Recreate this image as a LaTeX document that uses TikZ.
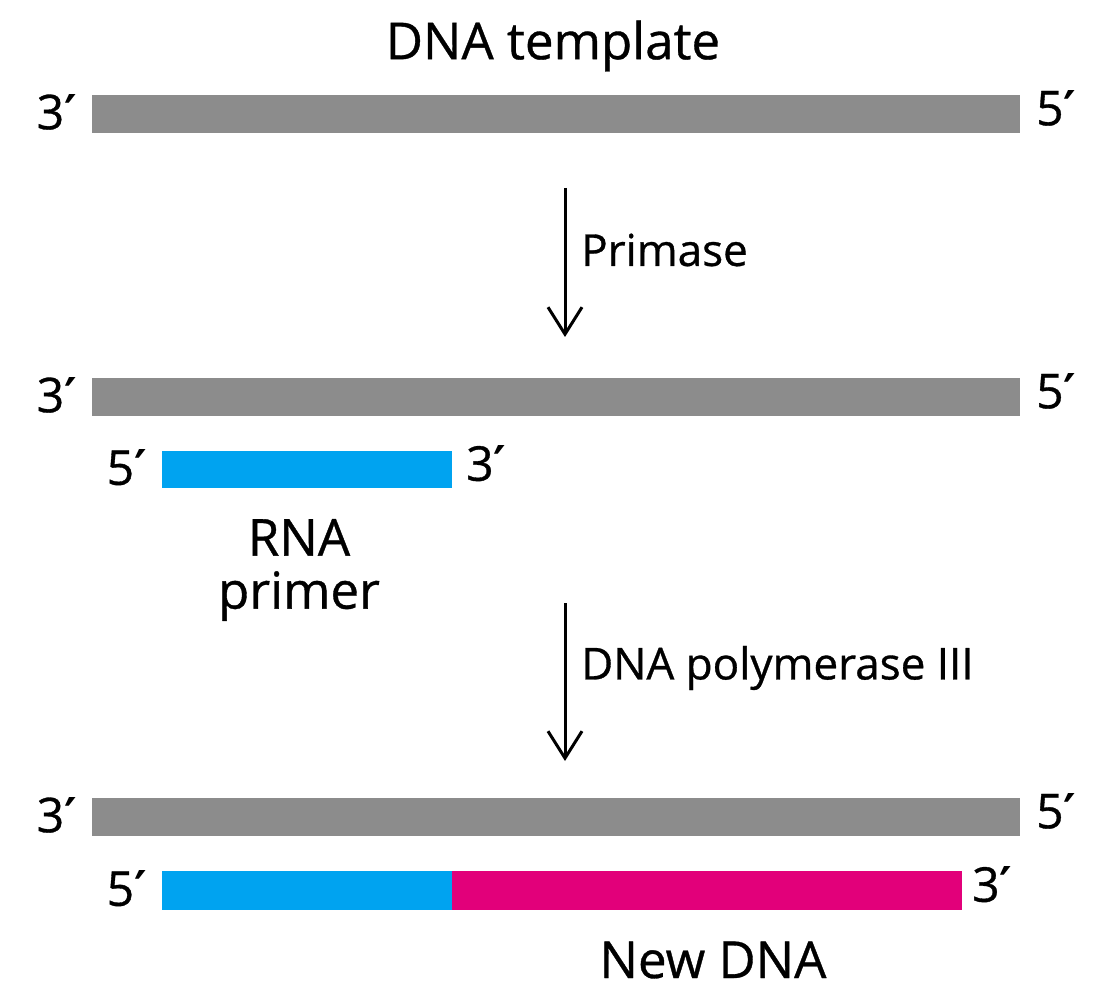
\documentclass[tikz,border=0pt]{standalone}
\usepackage{fontspec}
\setmainfont{Open Sans}[FakeBold=0.7,AutoFakeBold=0.7]
\newfontfamily\primefont{DejaVu Sans}
\usetikzlibrary{arrows.meta}
\newcommand{\pr}{{\primefont\char"2032}}
\definecolor{tmplgray}{RGB}{140,140,140}
\definecolor{rnablue}{RGB}{0,163,240}
\definecolor{dnamag}{RGB}{226,0,122}
\tikzset{
  strand/.style={inner sep=0pt, outer sep=0pt, minimum height=38pt},
  endlbl/.style={font=\fontsize{48}{52}\selectfont\bfseries, inner sep=0pt},
  lbl/.style={font=\fontsize{44}{50}\selectfont\bfseries, inner sep=0pt, align=center},
  biglbl/.style={font=\fontsize{51}{53}\selectfont\bfseries, inner sep=0pt, align=center},
  steparrow/.style={line width=3pt, -{Straight Barb[length=27pt,width=34pt,line width=3pt]}}
}
\begin{document}
\begin{tikzpicture}[x=1pt,y=-1pt]
\path[use as bounding box, fill=white] (0,0) rectangle (1112,1000);
% top
\node[biglbl] (title) at (553,46) {DNA template};
\node[strand, fill=tmplgray, minimum width=928pt] (t1) at (556,114) {};
\node[endlbl, anchor=east] (t1l) at ([xshift=-15pt,yshift=2pt]t1.west) {3\pr};
\node[endlbl, anchor=west] (t1r) at ([xshift=16pt,yshift=6pt]t1.east) {5\pr};
% arrow 1
\coordinate (a1s) at (565,188);
\coordinate (a1e) at (565,337);
\draw[steparrow] (a1s) -- (a1e);
\node[lbl, anchor=west] (primase) at (581,250) {Primase};
% row 2
\node[strand, fill=tmplgray, minimum width=928pt] (t2) at (556,397) {};
\node[endlbl, anchor=east] (t2l) at ([xshift=-15pt,yshift=2pt]t2.west) {3\pr};
\node[endlbl, anchor=west] (t2r) at ([xshift=16pt,yshift=6pt]t2.east) {5\pr};
\node[strand, fill=rnablue, minimum width=290pt, minimum height=37pt] (p2) at (307,469.5) {};
\node[endlbl, anchor=east] (p2l) at ([xshift=-15pt,yshift=2pt]p2.west) {5\pr};
\node[endlbl, anchor=west] (p2r) at ([xshift=14pt,yshift=6pt]p2.east) {3\pr};
\node[biglbl] (rnaprimer) at (299,570) {RNA\\primer};
% arrow 2
\coordinate (a2s) at (565,603);
\coordinate (a2e) at (565,761);
\draw[steparrow] (a2s) -- (a2e);
\node[lbl, anchor=west] (pol) at (581,668) {DNA polymerase III};
% row 3
\node[strand, fill=tmplgray, minimum width=928pt] (t3) at (556,817) {};
\node[endlbl, anchor=east] (t3l) at ([xshift=-15pt,yshift=2pt]t3.west) {3\pr};
\node[endlbl, anchor=west] (t3r) at ([xshift=16pt,yshift=6pt]t3.east) {5\pr};
\node[strand, fill=rnablue, minimum width=290pt, minimum height=39pt] (p3) at (307,890.5) {};
\node[strand, fill=dnamag, minimum width=510pt, minimum height=39pt, anchor=west] (n3) at (p3.east) {};
\node[endlbl, anchor=east] (p3l) at ([xshift=-15pt,yshift=2pt]p3.west) {5\pr};
\node[endlbl, anchor=west] (n3r) at ([xshift=10pt,yshift=6pt]n3.east) {3\pr};
\node[biglbl] (newdna) at (713,960) {New DNA};
\end{tikzpicture}
\end{document}
